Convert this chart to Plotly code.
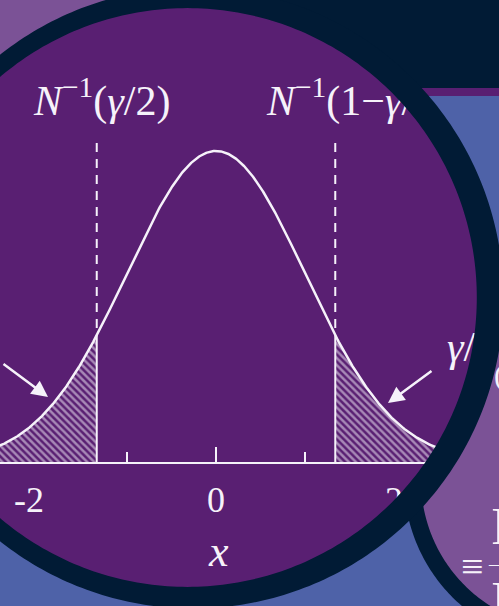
import numpy as np
import plotly.graph_objects as go

# ---- distribution and labels -------------------------------------------
MU = 0.0
SIGMA = 1.0
Z_CRIT = 1.34                     # |N^-1(gamma/2)| marked by the dashed lines
TICK_VALS = [-2, 0, 2]
TICK_TEXT = ["-2\u00a0\u00a0", "0", "2"]
MINOR_TICK_VALS = [-1, 1]
CENTRE_TICK = 0
LABEL_LOWER = "<i>N</i><sup>−1</sup>(<i>γ</i>/2)"
LABEL_UPPER = "<i>N</i><sup>−1</sup>(1−<i>γ</i>/2)"
TAIL_LABEL = "<i>γ</i>/2"
AXIS_TITLE = "<i>x</i>"

# ---- canvas geometry (pixels) ------------------------------------------
W, H = 499, 606
X0_PX, PX_PER_X = 216, 89         # pixel of x = 0 and pixels per unit of x
BASE_PX, PEAK_PX = 462, 151       # baseline and peak heights
IN_CX, IN_CY, R_IN = 187.4, 297.5, 289.4     # inner edge of the lens rim
OUT_CX, OUT_CY, R_OUT = 193.0, 298.0, 310.5  # outer edge of the lens rim
R_MID = R_IN + 7

PURPLE = "#591f72"
LILAC = "#7b5296"
NAVY = "#011b35"
BLUE = "#4e62a8"
WHITE = "#f6f2fa"
SERIF = "Liberation Serif, Times New Roman, serif"


def pdf(x):
    return np.exp(-0.5 * ((x - MU) / SIGMA) ** 2) / (SIGMA * np.sqrt(2 * np.pi))


PX_PER_Y = (BASE_PX - PEAK_PX) / pdf(MU)
x_range = [(0 - X0_PX) / PX_PER_X, (W - X0_PX) / PX_PER_X]
y_range = [0, BASE_PX / PX_PER_Y]


def dx(px):
    return (px - X0_PX) / PX_PER_X


def dy(py):
    return (BASE_PX - py) / PX_PER_Y


# ---- curve and shaded tails --------------------------------------------
xs = np.linspace(x_range[0] - 0.1, x_range[1] + 0.1, 700)
x_lo = np.append(xs[xs <= -Z_CRIT], -Z_CRIT)
x_hi = np.insert(xs[xs >= Z_CRIT], 0, Z_CRIT)
y_crit = pdf(Z_CRIT)
y_dash_top = dy(143)

fig = go.Figure()

hatch = dict(shape="\\", size=5, solidity=0.5, fgcolor=WHITE, bgcolor=PURPLE)
for seg in (x_lo, x_hi):
    fig.add_trace(go.Scatter(x=seg, y=pdf(seg), mode="lines", fill="tozeroy",
                             fillpattern=hatch, line=dict(width=0),
                             hoverinfo="skip", showlegend=False))

fig.add_trace(go.Scatter(x=xs, y=pdf(xs), mode="lines",
                         line=dict(color=WHITE, width=2.5), showlegend=False))

for z in (-Z_CRIT, Z_CRIT):
    fig.add_trace(go.Scatter(x=[z, z], y=[y_dash_top, y_crit], mode="lines",
                             line=dict(color=WHITE, width=2, dash="9px,7px"),
                             showlegend=False))
    fig.add_trace(go.Scatter(x=[z, z], y=[y_crit, 0], mode="lines",
                             line=dict(color=WHITE, width=2), showlegend=False))

# taller tick at the centre of the axis
fig.add_trace(go.Scatter(x=[CENTRE_TICK, CENTRE_TICK], y=[0, dy(447)],
                         mode="lines", line=dict(color=WHITE, width=2),
                         showlegend=False))

# labels over the dashed lines and the tail label
fig.add_trace(go.Scatter(
    x=[dx(34), dx(267), dx(447)], y=[dy(104), dy(104), dy(350)],
    mode="text", text=[LABEL_LOWER, LABEL_UPPER, TAIL_LABEL],
    textposition="middle right",
    textfont=dict(family=SERIF, size=42, color=WHITE), showlegend=False))

# ---- surroundings of the lens (drawn over the plot) ---------------------


def path_from(pts):
    return "M" + " L".join(f"{px / W:.5f},{1 - py / H:.5f}" for px, py in pts) + " Z"


def circle_pts(cx, cy, r, n=360):
    t = np.linspace(0, 2 * np.pi, n, endpoint=False)
    return list(zip(cx + r * np.cos(t), cy + r * np.sin(t)))


def rect_pts(x0, y0, x1, y1, step=2.0):
    pts = []
    for (ax, ay), (bx, by) in [((x0, y0), (x1, y0)), ((x1, y0), (x1, y1)),
                               ((x1, y1), (x0, y1)), ((x0, y1), (x0, y0))]:
        n = int(max(abs(bx - ax), abs(by - ay)) / step) + 1
        for t in np.linspace(0, 1, n, endpoint=False):
            pts.append((ax + (bx - ax) * t, ay + (by - ay) * t))
    return pts


def push_out(pts):
    # move points lying inside the lens onto the middle of its rim
    out = []
    for px, py in pts:
        ddx, ddy = px - IN_CX, py - IN_CY
        d = np.hypot(ddx, ddy)
        if d < R_MID:
            k = R_MID / d
            px, py = IN_CX + ddx * k, IN_CY + ddy * k
        out.append((px, py))
    return out


shapes = []


def add_path(path, color, rule="nonzero"):
    shapes.append(dict(type="path", xref="paper", yref="paper", path=path,
                       fillcolor=color, line=dict(width=0), layer="above",
                       fillrule=rule))


# everything outside the lens
add_path(path_from(rect_pts(-20, -20, W + 20, H + 20, 50)) + " "
         + path_from(circle_pts(IN_CX, IN_CY, R_MID)), BLUE, "evenodd")
add_path(path_from(push_out(rect_pts(-20, -20, 200, 110))), LILAC)
add_path(path_from(push_out(rect_pts(200, -20, W + 20, 88))), NAVY)
add_path(path_from(push_out(rect_pts(360, 88, W + 20, 96))), PURPLE)
# neighbouring lens at the lower right
add_path(path_from(push_out(circle_pts(570, 480, 166))), NAVY)
add_path(path_from(push_out(circle_pts(570, 480, 149))), LILAC)
# rim of the main lens
add_path(path_from(circle_pts(OUT_CX, OUT_CY, R_OUT)) + " "
         + path_from(circle_pts(IN_CX, IN_CY, R_IN)), NAVY, "evenodd")


def note(px, py, text, size, xanchor="center", italic=False):
    return dict(x=px / W, y=1 - py / H, xref="paper", yref="paper", text=text,
                xanchor=xanchor, yanchor="middle", showarrow=False,
                font=dict(family=SERIF, size=size, color=WHITE))


def arrow(px, py, ax, ay):
    return dict(x=px / W, y=1 - py / H, xref="paper", yref="paper", text="",
                showarrow=True, arrowhead=2, arrowsize=1.3, arrowwidth=2.5,
                arrowcolor=WHITE, ax=ax, ay=ay, standoff=0)


annotations = [
    arrow(48, 397, -46, -34),
    arrow(388, 403, 45, -33),
    note(218, 551, AXIS_TITLE, 44),
    # fragments of the formula in the neighbouring lens
    note(492, 375, "(", 30, "left"),
    note(489, 526, "I", 52, "left"),
    note(472, 566, "≡", 40),
    note(486, 563, "—", 22, "left"),
    note(489, 600, "I", 52, "left"),
]

fig.update_layout(
    width=W, height=H, margin=dict(l=0, r=0, t=0, b=0),
    paper_bgcolor=PURPLE, plot_bgcolor=PURPLE,
    shapes=shapes, annotations=annotations,
    xaxis=dict(range=x_range, domain=[0, 1], showgrid=False, zeroline=False,
               showline=True, linecolor=WHITE, linewidth=2,
               tickmode="array", tickvals=TICK_VALS, ticktext=TICK_TEXT,
               ticks="", ticklabelstandoff=5,
               tickfont=dict(family=SERIF, size=36, color=WHITE),
               minor=dict(tickmode="array", tickvals=MINOR_TICK_VALS,
                          ticks="inside", ticklen=10, tickwidth=2,
                          tickcolor=WHITE, showgrid=False),
               fixedrange=True),
    yaxis=dict(range=y_range, domain=[1 - BASE_PX / H, 1], visible=False,
               fixedrange=True),
)

fig.write_html("out.html")
